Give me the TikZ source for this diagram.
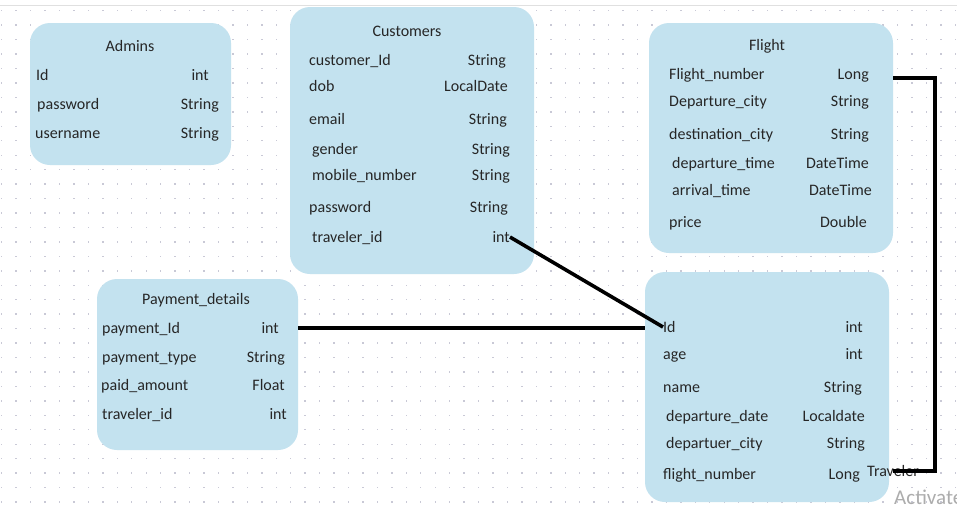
\documentclass[tikz,border=0pt]{standalone}
\usepackage{fontspec}
\setmainfont{Carlito}
\usepackage{xcolor}
\usepackage{tikz}
\definecolor{entfill}{HTML}{C3E2EF}
\definecolor{ink}{HTML}{262626}
\definecolor{griddot}{HTML}{C9C9D6}
\definecolor{topline}{HTML}{E0E0E0}
\definecolor{wmark}{HTML}{ADADAD}
\tikzset{
  entity/.style={fill=entfill, draw=none, rounded corners=20pt, inner sep=0pt},
  enttitle/.style={anchor=base, inner sep=0pt, text=ink, font=\fontsize{16}{18}\selectfont},
  fname/.style={anchor=base west, inner sep=0pt, text=ink, font=\fontsize{16}{18}\selectfont},
  ftype/.style={anchor=base east, inner sep=0pt, text=ink, font=\fontsize{16}{18}\selectfont},
  link/.style={line width=3.6pt, draw=black}
}
\newcommand{\Field}[6]{% node, baseline, name x, name, type x, type
  \node[fname] (#1) at (#3,#2) {#4};
  \node[ftype] (#1T) at (#5,#2) {#6};
}

\begin{document}
\begin{tikzpicture}[x=1pt,y=-1pt]
  \useasboundingbox (0,0) rectangle (957,509);
  \clip (0,0) rectangle (957,509);
  \fill[white] (0,0) rectangle (957,509);
  \draw[topline, line width=1.2pt] (0,5.5) -- (957,5.5);
  \foreach \i in {0,...,66}
    \foreach \j in {0,...,34}
      \fill[griddot] (1+14.45*\i,10+14.45*\j) rectangle ++(1.4,1.4);

  % Admins
  \node[entity, minimum width=201, minimum height=142] (adm) at (130.5,94) {};
  \node[enttitle] (admTitle) at (130,51.5) {Admins};
  \Field{admId}{80.5}{36}{Id}{209}{int}
  \Field{admPass}{109.5}{37}{password}{219}{String}
  \Field{admUser}{138.5}{35}{username}{219}{String}

  % Customers
  \node[entity, minimum width=244, minimum height=267] (cust) at (412,140.5) {};
  \node[enttitle] (custTitle) at (407,36.5) {Customers};
  \Field{custId}{65.5}{309}{customer\_Id}{506}{String}
  \Field{custDob}{91.5}{309}{dob}{508}{LocalDate}
  \Field{custMail}{124.5}{309}{email}{507}{String}
  \Field{custGender}{154.5}{312}{gender}{510}{String}
  \Field{custMobile}{180.5}{312}{mobile\_number}{510}{String}
  \Field{custPass}{212.5}{309}{password}{508}{String}
  \Field{custTrav}{242.5}{312}{traveler\_id}{510}{int}

  % Flight
  \node[entity, minimum width=244, minimum height=230] (flight) at (771,138) {};
  \node[enttitle] (flightTitle) at (767,50.5) {Flight};
  \Field{fNum}{79.5}{669}{Flight\_number}{869}{Long}
  \Field{fDep}{106.5}{669}{Departure\_city}{869}{String}
  \Field{fDest}{139.5}{669}{destination\_city}{869}{String}
  \Field{fDepTime}{168.5}{672}{departure\_time}{869}{DateTime}
  \Field{fArrTime}{195.5}{672}{arrival\_time}{872}{DateTime}
  \Field{fPrice}{227.5}{669}{price}{867}{Double}

  % Payment_details
  \node[entity, minimum width=201, minimum height=171] (pay) at (197.5,364.5) {};
  \node[enttitle] (payTitle) at (196,304.5) {Payment\_details};
  \Field{payId}{333.5}{102}{payment\_Id}{279}{int}
  \Field{payType}{362.5}{102}{payment\_type}{285}{String}
  \Field{payAmount}{390.5}{101}{paid\_amount}{285}{Float}
  \Field{payTrav}{419.5}{102}{traveler\_id}{287}{int}

  % Traveler
  \node[entity, minimum width=244, minimum height=230] (trav) at (767,387) {};
  \Field{travId}{332.5}{663}{Id}{863}{int}
  \Field{travAge}{359.5}{663}{age}{863}{int}
  \Field{travName}{392.5}{663}{name}{862}{String}
  \Field{travDate}{421.5}{666}{departure\_date}{865}{Localdate}
  \Field{travCity}{448.5}{666}{departuer\_city}{865}{String}
  \Field{travFnum}{479.5}{663}{flight\_number}{860}{Long}
  \node[fname] (travTag) at (867,476.5) {Traveler};

  % links
  \coordinate (fbend) at (935,78);
  \draw[link] (custTravT.east) -- (travId.west);
  \draw[link] (pay.east |- payIdT.east) -- (trav.west |- payIdT.east);
  \draw[link] (flight.east |- fbend) -- (fbend) |- (travTag.center);

  \node[anchor=base west, inner sep=0pt, text=wmark, font=\fontsize{21}{24}\selectfont] (wmark) at (894,504) {Activate Windows};
\end{tikzpicture}
\end{document}
